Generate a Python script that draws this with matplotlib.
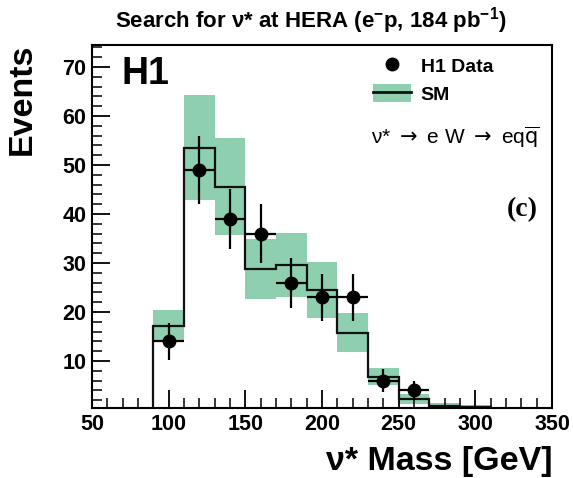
import matplotlib
matplotlib.use("Agg")
import matplotlib.pyplot as plt
from matplotlib.patches import Patch
from matplotlib.lines import Line2D
from matplotlib.ticker import MultipleLocator

plt.rcParams['font.family'] = ['Liberation Sans', 'DejaVu Sans']
plt.rcParams['mathtext.fontset'] = 'custom'
plt.rcParams['mathtext.rm'] = 'Liberation Sans'
plt.rcParams['mathtext.it'] = 'Liberation Sans:italic'
plt.rcParams['mathtext.bf'] = 'Liberation Sans:bold'

# ---- data ----
bin_edges = [90, 110, 130, 150, 170, 190, 210, 230, 250, 270, 290, 310]
sm_values = [17.1, 53.5, 45.6, 28.7, 29.6, 24.5, 15.8, 6.8, 2.2, 0.9, 0.7]
sm_errors = [3.3, 10.7, 9.9, 6.1, 6.6, 5.8, 3.9, 1.8, 1.0, 0.5, 0.4]

data_x = [100, 120, 140, 160, 180, 200, 220, 240, 260]
data_y = [14, 49, 39, 36, 26, 23, 23, 6, 4]
data_yerr = [3.8, 7.0, 6.2, 6.0, 5.1, 4.8, 4.8, 2.4, 2.0]
data_xerr = [10, 10, 10, 10, 10, 10, 10, 10, 10]

x_ticks = [50, 100, 150, 200, 250, 300, 350]
y_ticks = [10, 20, 30, 40, 50, 60, 70]

band_color = '#8dcfae'

fig = plt.figure(figsize=(5.73, 4.78), dpi=100)
ax = fig.add_axes([92/573, 1 - 408/478, 460/573, 363/478])

centers = [(a + b) / 2 for a, b in zip(bin_edges[:-1], bin_edges[1:])]
widths = [b - a for a, b in zip(bin_edges[:-1], bin_edges[1:])]
lows = [v - e for v, e in zip(sm_values, sm_errors)]
heights = [2 * e for e in sm_errors]
ax.bar(centers, heights, width=widths, bottom=lows, color=band_color,
       edgecolor='none', zorder=1)
ax.stairs(sm_values, bin_edges, baseline=0, color='#111111', linewidth=1.6, zorder=2)

ax.errorbar(data_x, data_y, yerr=data_yerr, xerr=data_xerr, fmt='o', color='black',
            markersize=9, elinewidth=1.6, capsize=0, zorder=3)

ax.set_xlim(50, 350)
ax.set_ylim(0.4, 74.5)
ax.set_xticks(x_ticks)
ax.set_yticks(y_ticks)
ax.xaxis.set_minor_locator(MultipleLocator(10))
ax.yaxis.set_minor_locator(MultipleLocator(2))
ax.tick_params(which='both', direction='in', top=False, right=False)
ax.tick_params(which='major', length=13, width=1.3, labelsize=15.5, pad=4)
ax.tick_params(which='minor', length=7, width=1.1)
for lab in ax.get_xticklabels() + ax.get_yticklabels():
    lab.set_fontweight('bold')
for sp in ax.spines.values():
    sp.set_linewidth(1.5)

ax.set_ylabel('Events', fontsize=24.5, fontweight='bold')
ax.yaxis.set_label_coords(-0.117, 0.851)
ax.set_xlabel('ν* Mass [GeV]', fontsize=24.5, fontweight='bold')
ax.xaxis.set_label_coords(1.0, -0.105)
ax.xaxis.label.set_horizontalalignment('right')

fig.text(311/573, 1 - 21/478, r'Search for ν* at HERA (e$^{\mathbf{-}}$p, 184 pb$^{\mathbf{-1}}$)',
         ha='center', va='center', fontsize=16, fontweight='bold')

fig.text(122/573, 1 - 74/478, 'H1', fontsize=27, fontweight='bold', ha='left', va='center')

fig.text(540/573, 1 - 137/478, r'ν* $\rightarrow$ e W $\rightarrow$ eq$\overline{\mathrm{q}}$',
         fontsize=15, math_fontfamily='dejavusans', ha='right', va='center')
fig.text(538/573, 1 - 210/478, '(c)', fontsize=20, fontweight='bold',
         family='Liberation Serif', ha='right', va='center')

h_data = Line2D([], [], marker='o', color='black', linestyle='none', markersize=9)
h_sm = (Patch(facecolor=band_color, edgecolor='none'), Line2D([], [], color='#111111', linewidth=2))
leg = ax.legend([h_data, h_sm], ['H1 Data', 'SM'], loc='upper left',
                bbox_to_anchor=((373 - 92) / 460, 1 - (56 - 45) / 363),
                frameon=False, borderpad=0, borderaxespad=0,
                handlelength=1.95, handleheight=1.1, handletextpad=0.5,
                labelspacing=0.4, prop={'weight': 'bold', 'size': 14})

fig.savefig('out.png', dpi=100)
